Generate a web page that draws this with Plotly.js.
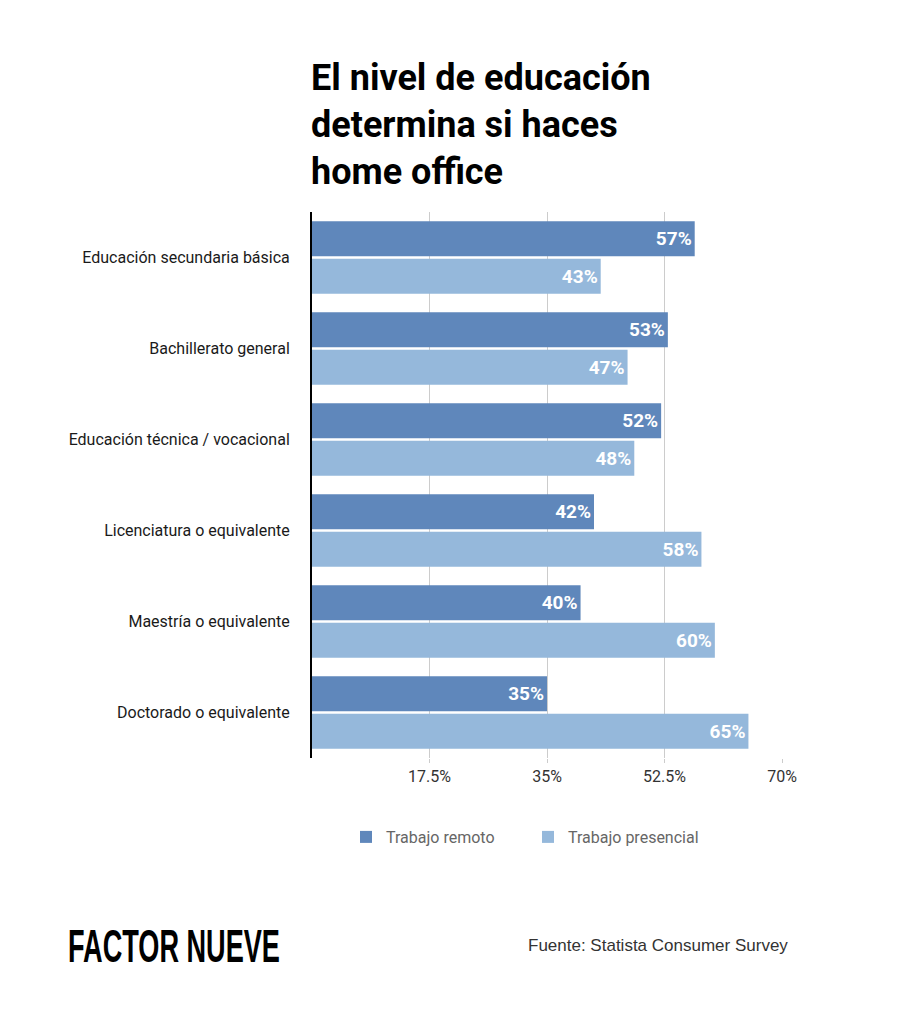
<!DOCTYPE html>
<html>
<head>
<meta charset="utf-8">
<script src="https://cdn.plot.ly/plotly-3.0.1.min.js"></script>
<style>
  html, body { margin: 0; padding: 0; background: #fff; }
  #chart { width: 919px; height: 1024px; }
</style>
</head>
<body>
<div id="chart"></div>
<script>
const categories = [
  "Educación secundaria básica",
  "Bachillerato general",
  "Educación técnica / vocacional",
  "Licenciatura o equivalente",
  "Maestría o equivalente",
  "Doctorado o equivalente"
];
const remoto = [57, 53, 52, 42, 40, 35];
const presencial = [43, 47, 48, 58, 60, 65];
const seriesNames = ["Trabajo remoto", "Trabajo presencial"];
const tickVals = [17.5, 35, 52.5, 70];
const tickText = ["17.5%", "35%", "52.5%", "70%"];

const darkBlue = "#5F87BB";
const lightBlue = "#95B8DB";

function barTrace(name, values, color) {
  return {
    type: "bar",
    orientation: "h",
    name: name,
    y: categories,
    x: values,
    marker: { color: color, line: { width: 0 } },
    text: values.map(v => v + "%"),
    textposition: "inside",
    insidetextanchor: "end",
    textangle: 0,
    constraintext: "none",
    textfont: { family: "Roboto, sans-serif", size: 19, color: "#ffffff", weight: 700 },
    hoverinfo: "none"
  };
}

const data = [
  barTrace(seriesNames[0], remoto, darkBlue),
  barTrace(seriesNames[1], presencial, lightBlue)
];

const layout = {
  width: 919,
  height: 1024,
  paper_bgcolor: "#ffffff",
  plot_bgcolor: "#ffffff",
  margin: { l: 312, r: 137, t: 212, b: 266 },
  barmode: "group",
  bargap: 0.176,
  bargroupgap: 0.07,
  showlegend: true,
  font: { family: "Roboto, sans-serif" },
  title: {
    text: "El nivel de educación<br>determina si haces<br>home office",
    font: { family: "Roboto, sans-serif", size: 36, color: "#000000", weight: 700 },
    x: 311 / 919,
    xref: "container",
    xanchor: "left",
    y: 1 - 90 / 1024,
    yref: "container",
    yanchor: "top"
  },
  xaxis: {
    range: [0, 70],
    tickvals: tickVals,
    ticktext: tickText,
    showgrid: true,
    gridcolor: "#cccccc",
    gridwidth: 1,
    zeroline: false,
    showline: false,
    ticks: "outside",
    ticklen: 4,
    tickcolor: "#cccccc",
    tickfont: { family: "Roboto, sans-serif", size: 16, color: "#333333" },
    fixedrange: true
  },
  yaxis: {
    autorange: "reversed",
    showgrid: false,
    zeroline: false,
    showline: true,
    linecolor: "#000000",
    linewidth: 2,
    ticks: "outside",
    ticklen: 17,
    tickcolor: "rgba(0,0,0,0)",
    tickfont: { family: "Roboto, sans-serif", size: 16, color: "#1a1a1a" },
    fixedrange: true
  },
  legend: {
    orientation: "h",
    x: (346 - 312) / 470,
    xanchor: "left",
    y: (758 - 837) / 546,
    yanchor: "middle",
    font: { family: "Roboto, sans-serif", size: 16, color: "#666666" },
    entrywidth: 137,
    entrywidthmode: "pixels",
    bgcolor: "rgba(0,0,0,0)"
  },
  annotations: [
    {
      text: "<b>FACTOR NUEVE</b>",
      name: "brand",
      xref: "paper", yref: "paper",
      x: (66 - 312) / 470, xanchor: "left",
      y: (758 - 945) / 546, yanchor: "middle",
      showarrow: false,
      font: { family: "'Liberation Sans', Arial, sans-serif", size: 47, color: "#000000" }
    },
    {
      text: "Fuente: Statista Consumer Survey",
      xref: "paper", yref: "paper",
      x: (790 - 312) / 470, xanchor: "right",
      y: (758 - 945) / 546, yanchor: "middle",
      showarrow: false,
      font: { family: "'Liberation Sans', Arial, sans-serif", size: 17, color: "#333333" }
    }
  ]
};

Plotly.newPlot("chart", data, layout, { displayModeBar: false, staticPlot: true }).then(function (gd) {
  // condense the brand wordmark horizontally to match its narrow type
  const texts = gd.querySelectorAll(".annotation-text");
  texts.forEach(function (t) {
    if (t.textContent.indexOf("FACTOR NUEVE") === 0) {
      const bb = t.getBBox();
      const targetW = 212;
      const s = targetW / bb.width;
      const x0 = bb.x;
      t.setAttribute("transform", "translate(" + x0 + ",0) scale(" + s + ",1) translate(" + (-x0) + ",0)");
    }
  });
});
</script>
</body>
</html>
